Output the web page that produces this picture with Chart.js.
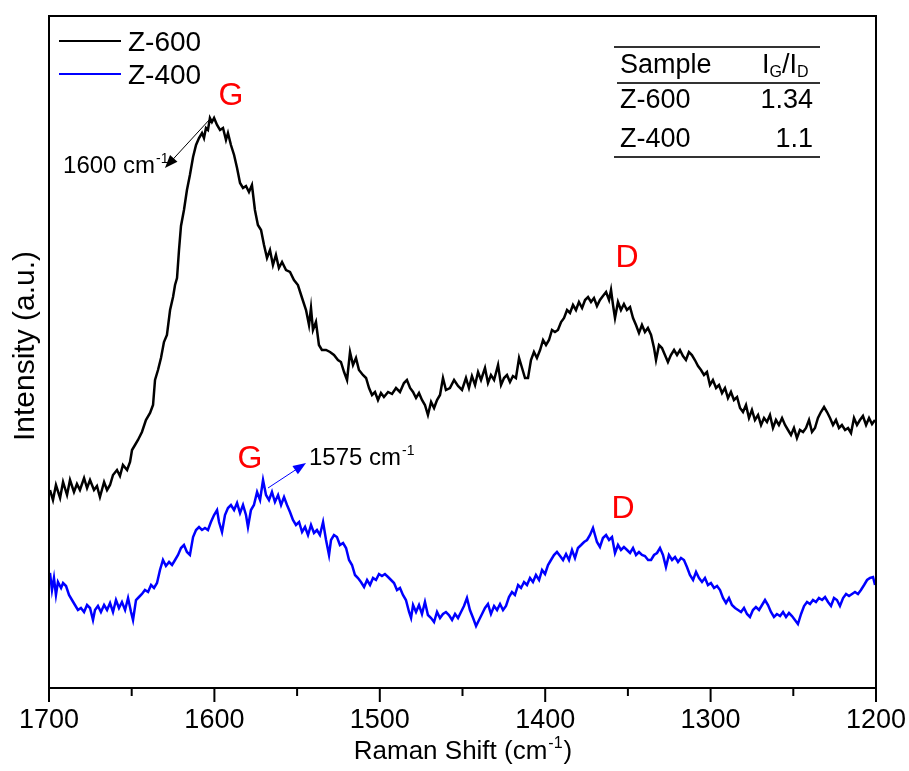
<!DOCTYPE html>
<html>
<head>
<meta charset="utf-8">
<script src="https://cdn.jsdelivr.net/npm/chart.js@4.4.1/dist/chart.umd.min.js"></script>
<style>
  html, body { margin: 0; padding: 0; background: #fff; }
</style>
</head>
<body>
<canvas id="raman" width="909" height="771"></canvas>
<script>
// Raman spectra (x: cm-1, y: arbitrary units)
const z600Shift = [1699.4,1697.6,1695.8,1693.3,1691.5,1689.1,1687.3,1684.9,1683.1,1681.3,1678.8,1677.0,1675.2,1672.8,1671.0,1669.2,1666.7,1664.9,1663.1,1661.3,1658.9,1657.1,1655.3,1652.8,1651.0,1649.8,1648.0,1646.2,1643.8,1641.4,1638.9,1637.1,1635.9,1634.1,1632.3,1630.5,1628.7,1626.8,1625.0,1623.8,1622.6,1621.4,1620.2,1618.4,1616.6,1614.8,1612.9,1611.1,1609.3,1607.5,1606.3,1605.1,1603.9,1602.7,1601.5,1600.2,1598.4,1596.6,1594.8,1593.0,1591.8,1590.0,1588.1,1586.3,1584.5,1582.7,1580.9,1579.1,1577.3,1575.5,1573.7,1571.8,1570.0,1568.2,1566.4,1564.6,1562.8,1561.0,1559.1,1556.7,1554.3,1551.9,1549.5,1547.0,1544.6,1542.8,1541.6,1540.4,1538.6,1536.8,1535.0,1532.5,1530.1,1527.7,1525.3,1523.5,1521.6,1519.8,1518.0,1516.2,1514.4,1512.6,1510.2,1508.3,1506.5,1504.7,1502.9,1501.1,1499.3,1497.5,1495.0,1492.6,1490.2,1487.8,1485.4,1483.6,1481.7,1479.9,1478.1,1476.3,1474.5,1472.7,1470.9,1469.0,1467.2,1465.4,1463.6,1461.8,1460.0,1457.6,1455.1,1452.7,1450.3,1447.9,1446.1,1444.3,1442.4,1440.6,1438.8,1436.4,1434.6,1432.8,1430.9,1428.5,1426.7,1424.9,1423.1,1421.3,1419.5,1417.7,1415.8,1414.0,1412.2,1410.4,1408.6,1406.8,1405.0,1403.1,1401.3,1399.5,1397.7,1395.9,1394.1,1392.3,1390.4,1388.6,1386.8,1385.0,1383.2,1381.4,1379.6,1377.7,1375.9,1374.1,1372.3,1370.5,1368.7,1366.9,1365.1,1363.2,1361.4,1360.2,1359.0,1357.8,1356.0,1354.2,1352.4,1350.6,1348.7,1346.9,1345.1,1343.3,1341.5,1339.7,1337.9,1336.0,1334.2,1333.0,1331.2,1329.4,1327.6,1325.8,1324.0,1322.1,1320.3,1318.5,1316.7,1314.9,1313.1,1311.3,1309.5,1307.6,1305.8,1304.0,1302.2,1300.4,1298.6,1296.7,1294.9,1293.1,1291.3,1289.5,1287.7,1285.9,1284.0,1282.2,1280.4,1278.6,1276.8,1275.0,1273.2,1271.3,1269.5,1267.7,1265.9,1264.1,1262.3,1260.5,1258.7,1256.8,1255.0,1253.2,1251.4,1249.6,1247.8,1246.0,1244.1,1242.3,1240.5,1238.7,1236.9,1235.1,1233.3,1231.4,1229.6,1227.8,1226.0,1224.2,1222.4,1220.6,1218.7,1216.9,1215.1,1213.3,1211.5,1209.7,1207.9,1206.0,1204.2,1202.4,1200.6];
const z600Int = [198,188,203,190,206,193,208,196,204,198,210,200,208,198,202,191,206,198,203,213,218,212,223,218,226,238,243,248,256,268,275,283,308,318,330,346,353,378,391,403,410,438,462,478,498,513,531,543,550,555,550,560,558,570,566,570,563,558,560,548,555,543,533,520,505,500,502,496,503,478,463,458,443,430,438,423,433,420,426,418,416,408,403,390,378,363,380,358,366,343,338,338,336,333,328,326,316,308,336,323,330,318,313,310,300,293,296,288,295,291,296,294,300,296,305,308,300,296,290,295,288,283,273,286,280,288,293,310,298,300,308,302,298,310,300,312,303,316,308,320,305,313,308,323,303,310,313,306,312,310,330,320,310,310,328,336,330,338,348,343,348,358,356,358,366,370,378,375,383,378,386,380,388,391,386,390,382,388,392,396,388,398,383,370,386,378,384,378,381,370,363,355,363,356,360,353,340,328,343,340,333,326,333,338,333,338,332,328,336,333,328,322,318,313,316,303,308,300,303,295,300,290,296,288,291,280,276,283,270,278,268,273,263,270,266,273,260,268,263,270,263,258,253,260,250,258,256,260,268,256,260,270,276,281,276,270,263,268,260,263,258,260,255,270,263,268,272,263,270,264,268];

const z400Shift = [1699.4,1698.2,1697.0,1695.8,1694.6,1692.7,1691.5,1689.7,1687.9,1686.1,1684.3,1682.5,1680.7,1678.8,1677.0,1675.2,1673.4,1672.2,1670.4,1668.6,1666.7,1664.9,1663.1,1661.3,1659.5,1657.7,1655.9,1654.0,1652.2,1650.4,1649.2,1647.4,1645.6,1643.8,1642.0,1640.1,1638.3,1636.5,1634.7,1632.9,1631.1,1629.3,1627.4,1625.6,1623.8,1622.0,1620.2,1618.4,1616.6,1614.8,1612.9,1611.1,1609.3,1607.5,1605.7,1603.9,1602.1,1600.2,1598.4,1597.2,1595.4,1593.6,1591.8,1590.0,1588.1,1586.3,1584.5,1582.7,1580.9,1579.7,1577.9,1576.1,1574.2,1572.4,1570.6,1568.8,1567.0,1565.2,1563.4,1561.5,1559.7,1557.9,1556.1,1554.3,1552.5,1550.7,1548.8,1547.0,1545.2,1543.4,1541.6,1539.8,1538.0,1536.2,1534.3,1532.5,1530.7,1529.5,1527.7,1525.9,1524.1,1522.2,1520.4,1518.6,1516.8,1515.0,1513.2,1511.4,1509.5,1507.7,1505.9,1504.1,1502.3,1500.5,1498.7,1496.9,1495.0,1493.2,1491.4,1489.6,1487.8,1486.0,1484.2,1482.3,1481.1,1479.9,1478.1,1476.3,1474.5,1472.7,1470.9,1469.0,1467.2,1465.4,1463.6,1461.8,1460.0,1458.2,1456.3,1454.5,1452.7,1450.9,1449.1,1447.3,1445.5,1443.6,1441.8,1440.0,1438.2,1436.4,1434.6,1432.8,1430.9,1429.1,1427.3,1425.5,1423.7,1421.9,1420.1,1418.3,1416.4,1414.6,1412.8,1411.0,1409.2,1407.4,1405.6,1403.7,1401.9,1400.1,1398.3,1396.5,1394.7,1392.9,1391.0,1389.2,1387.4,1385.6,1383.8,1382.0,1380.2,1378.3,1376.5,1374.7,1372.9,1371.1,1369.9,1368.7,1366.9,1365.1,1363.2,1361.4,1359.6,1357.8,1356.0,1354.2,1352.4,1350.5,1348.7,1346.9,1345.1,1343.3,1341.5,1339.7,1337.8,1336.0,1334.2,1332.4,1330.6,1328.8,1327.0,1325.2,1323.3,1321.5,1319.7,1317.9,1316.1,1314.3,1312.5,1310.6,1308.8,1307.0,1305.2,1303.4,1301.6,1299.8,1297.9,1296.1,1294.3,1292.5,1290.7,1288.9,1287.1,1285.2,1283.4,1281.6,1279.8,1278.0,1276.2,1274.4,1272.6,1270.7,1268.9,1267.1,1265.3,1263.5,1261.7,1259.9,1258.0,1256.2,1254.4,1252.6,1250.8,1249.0,1247.2,1245.3,1243.5,1241.7,1239.9,1238.1,1236.3,1234.5,1232.6,1230.8,1229.0,1227.2,1225.4,1223.6,1221.8,1219.9,1218.1,1216.3,1214.5,1212.7,1210.9,1209.1,1207.2,1205.4,1203.6,1201.8,1200.6];
const z400Int = [115,98,110,93,106,100,105,102,93,88,83,78,80,76,83,80,68,78,82,76,83,78,85,76,88,80,86,78,90,76,68,88,91,94,98,96,103,100,105,118,128,122,126,123,128,133,140,143,136,133,151,158,161,158,160,158,166,173,178,166,156,173,180,183,178,185,175,183,173,161,178,183,196,188,208,193,188,196,186,193,183,191,183,176,168,163,166,156,161,153,163,155,158,153,166,148,133,148,153,151,143,145,140,128,123,113,110,106,101,108,103,110,108,114,112,114,111,108,105,98,100,93,88,76,70,83,76,83,74,86,73,70,66,76,70,74,76,73,68,74,70,76,82,90,78,70,62,68,74,80,84,74,82,78,84,78,82,91,96,93,103,100,106,103,110,106,113,108,118,114,123,128,133,136,132,128,134,128,138,130,140,143,146,148,153,160,153,146,141,150,153,148,151,135,143,138,141,138,135,140,133,136,133,132,128,128,133,135,140,133,121,133,128,131,126,130,128,121,113,108,116,110,106,110,103,105,100,102,98,90,85,90,83,80,78,76,80,74,71,78,81,78,83,88,83,76,71,74,72,76,71,75,72,68,64,74,82,86,84,88,86,90,88,91,86,82,90,88,82,90,94,92,94,96,94,98,103,108,110,111,103];

const seriesNames = ['Z-600', 'Z-400'];
const seriesColors = ['#000000', '#0000ff'];
const xMin = 1200, xMax = 1700, xStep = 50;
const yMin = 0, yMax = 672;
const igIdRatios = ['1.34', '1.1'];
const peakShifts = ['1600', '1575'];

const FONT = '"Liberation Sans", Arial, sans-serif';

function toPoints(xs, ys) {
    const n = Math.min(xs.length, ys.length);
    const pts = [];
    for (let i = 0; i < n; i++) pts.push({ x: xs[i], y: ys[i] });
    return pts;
}

function drawArrow(ctx, x1, y1, x2, y2, color) {
    const ang = Math.atan2(y2 - y1, x2 - x1);
    const len = 13, half = 5;
    ctx.strokeStyle = color;
    ctx.fillStyle = color;
    ctx.lineWidth = 1;
    ctx.beginPath();
    ctx.moveTo(x1, y1);
    ctx.lineTo(x2 - Math.cos(ang) * len * 0.8, y2 - Math.sin(ang) * len * 0.8);
    ctx.stroke();
    ctx.beginPath();
    ctx.moveTo(x2, y2);
    ctx.lineTo(x2 - Math.cos(ang) * len - Math.sin(ang) * half, y2 - Math.sin(ang) * len + Math.cos(ang) * half);
    ctx.lineTo(x2 - Math.cos(ang) * len + Math.sin(ang) * half, y2 - Math.sin(ang) * len - Math.cos(ang) * half);
    ctx.closePath();
    ctx.fill();
}

// text with a superscript part, e.g. "cm" + "-1"
function drawSupText(ctx, x, y, base, sup, tail, size, color, align) {
    ctx.fillStyle = color;
    ctx.textBaseline = 'alphabetic';
    ctx.textAlign = 'left';
    ctx.font = size + 'px ' + FONT;
    const wBase = ctx.measureText(base).width;
    const wTail = ctx.measureText(tail).width;
    ctx.font = Math.round(size * 0.6) + 'px ' + FONT;
    const wSup = ctx.measureText(sup).width;
    let sx = x;
    if (align === 'center') sx = x - (wBase + wSup + wTail) / 2;
    ctx.font = size + 'px ' + FONT;
    ctx.fillText(base, sx, y);
    ctx.font = Math.round(size * 0.6) + 'px ' + FONT;
    ctx.fillText(sup, sx + wBase + 1, y - size * 0.42);
    ctx.font = size + 'px ' + FONT;
    ctx.fillText(tail, sx + wBase + wSup + 2, y);
}

const decorPlugin = {
    id: 'decor',
    afterDraw(chart) {
        const { ctx, chartArea: a } = chart;
        const xs = chart.scales.x, ys = chart.scales.y;
        const px = v => xs.getPixelForValue(v);
        const py = v => ys.getPixelForValue(v);
        ctx.save();

        // frame + ticks
        ctx.strokeStyle = '#000';
        ctx.lineWidth = 2;
        ctx.strokeRect(a.left, a.top, a.right - a.left, a.bottom - a.top);
        xs.ticks.forEach(t => {
            const x = px(t.value);
            ctx.beginPath();
            ctx.moveTo(x, a.bottom);
            ctx.lineTo(x, a.bottom + (t.value % 100 === 0 ? 14 : 8));
            ctx.stroke();
        });

        // axis titles
        drawSupText(ctx, 462, 759, 'Raman Shift (cm', '-1', ')', 26, '#000', 'center');
        ctx.save();
        ctx.translate(34, 346);
        ctx.rotate(-Math.PI / 2);
        ctx.font = '30px ' + FONT;
        ctx.fillStyle = '#000';
        ctx.textAlign = 'center';
        ctx.textBaseline = 'alphabetic';
        ctx.fillText('Intensity (a.u.)', 0, 0);
        ctx.restore();

        // legend
        const legendY = [41, 74];
        seriesNames.forEach((name, i) => {
            ctx.strokeStyle = seriesColors[i];
            ctx.lineWidth = 2;
            ctx.beginPath();
            ctx.moveTo(59, legendY[i]);
            ctx.lineTo(121, legendY[i]);
            ctx.stroke();
            ctx.fillStyle = '#000';
            ctx.font = '28px ' + FONT;
            ctx.textAlign = 'left';
            ctx.textBaseline = 'alphabetic';
            ctx.fillText(name, 128, legendY[i] + 10);
        });

        // ratio table
        ctx.strokeStyle = '#333';
        ctx.lineWidth = 2;
        [[614, 47], [617, 83], [614, 157]].forEach(([x0, y0]) => {
            ctx.beginPath();
            ctx.moveTo(x0, y0);
            ctx.lineTo(820, y0);
            ctx.stroke();
        });
        ctx.fillStyle = '#000';
        ctx.font = '27px ' + FONT;
        ctx.textAlign = 'left';
        ctx.fillText('Sample', 620, 73);
        // I_G / I_D header
        let hx = 762;
        const big = '27px ' + FONT, small = '16px ' + FONT;
        [['I', big, 0], ['G', small, 4], ['/I', big, 0], ['D', small, 4]].forEach(([s, f, dy]) => {
            ctx.font = f;
            ctx.fillText(s, hx, 73 + dy);
            hx += ctx.measureText(s).width;
        });
        ctx.font = '27px ' + FONT;
        const rowY = [108, 147];
        seriesNames.forEach((name, i) => {
            ctx.textAlign = 'left';
            ctx.fillText(name, 620, rowY[i]);
            ctx.textAlign = 'right';
            ctx.fillText(igIdRatios[i], 813, rowY[i]);
        });

        // peak letters
        ctx.fillStyle = '#ff0000';
        ctx.font = '32px ' + FONT;
        ctx.textAlign = 'center';
        ctx.fillText('G', px(1590), py(583));
        ctx.fillText('D', px(1350.5), py(421));
        ctx.fillText('G', px(1578.5), py(220));
        ctx.fillText('D', px(1352.9), py(170));

        // peak position arrows
        drawArrow(ctx, px(1602.1), py(570), px(1629.9), py(520), '#000');
        drawSupText(ctx, px(1691.5), py(515), peakShifts[0] + ' cm', '-1', '', 24, '#000', 'left');
        drawArrow(ctx, px(1567.6), py(200), px(1544.6), py(225), '#0000ff');
        drawSupText(ctx, px(1542.8), py(223), peakShifts[1] + ' cm', '-1', '', 24, '#000', 'left');

        ctx.restore();
    }
};

new Chart(document.getElementById('raman'), {
    type: 'line',
    data: {
        datasets: [
            { label: seriesNames[0], data: toPoints(z600Shift, z600Int), borderColor: seriesColors[0], borderWidth: 2.5, pointRadius: 0, tension: 0, fill: false },
            { label: seriesNames[1], data: toPoints(z400Shift, z400Int), borderColor: seriesColors[1], borderWidth: 2.5, pointRadius: 0, tension: 0, fill: false }
        ]
    },
    options: {
        responsive: false,
        animation: false,
        layout: { padding: { left: 49, right: 33, top: 16, bottom: 0 } },
        plugins: { legend: { display: false }, tooltip: { enabled: false } },
        scales: {
            x: {
                type: 'linear', reverse: true, min: xMin, max: xMax,
                grid: { display: false }, border: { display: false },
                ticks: {
                    stepSize: xStep, autoSkip: false, maxRotation: 0, color: '#000', padding: 8,
                    font: { family: FONT, size: 27 },
                    callback: v => (v % 100 === 0 ? String(v) : '')
                },
                afterFit: s => { s.height = 83; s.paddingLeft = 0; s.paddingRight = 0; }
            },
            y: {
                min: yMin, max: yMax,
                grid: { display: false }, border: { display: false },
                ticks: { display: false },
                afterFit: s => { s.width = 0; s.paddingTop = 0; s.paddingBottom = 0; }
            }
        }
    },
    plugins: [decorPlugin]
});
</script>
</body>
</html>
